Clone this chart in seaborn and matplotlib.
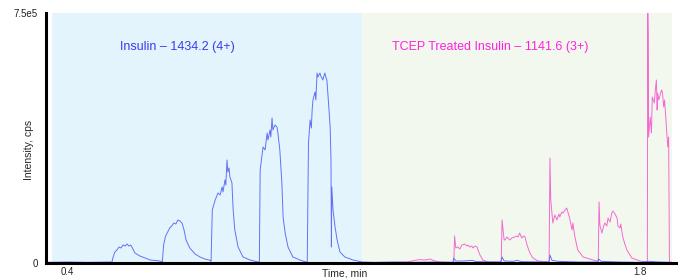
import matplotlib
matplotlib.use("Agg")
import matplotlib.pyplot as plt
import seaborn as sns

# --- data (intensity in kcps, time in min) ---
insulin_time = [0.349, 0.40, 0.45, 0.50,
                0.510, 0.512, 0.517, 0.522, 0.527, 0.532, 0.537, 0.542, 0.547, 0.551, 0.556, 0.561,
                0.566, 0.578, 0.591, 0.603, 0.627, 0.632,
                0.633, 0.636, 0.641, 0.646, 0.651, 0.656, 0.661, 0.666, 0.671, 0.676, 0.681, 0.686,
                0.691, 0.700, 0.713, 0.725, 0.737, 0.750,
                0.752, 0.755, 0.762, 0.769, 0.774, 0.779, 0.781, 0.786, 0.788, 0.791, 0.793, 0.796,
                0.798, 0.803, 0.806, 0.810, 0.818, 0.830, 0.847, 0.867,
                0.870, 0.872, 0.879, 0.884, 0.889, 0.891, 0.896, 0.898, 0.901, 0.903, 0.908, 0.913,
                0.915, 0.920, 0.925, 0.928, 0.933, 0.940, 0.952, 0.969, 0.984,
                0.987, 0.990, 0.994, 0.997, 0.999, 1.001, 1.006, 1.008, 1.011, 1.013, 1.018, 1.020,
                1.023, 1.025, 1.030, 1.033, 1.035, 1.038, 1.043, 1.045, 1.046, 1.047, 1.050, 1.055,
                1.060, 1.067, 1.079, 1.099, 1.121,
                1.15, 1.20, 1.25, 1.30, 1.343, 1.345, 1.350, 1.37, 1.39, 1.40, 1.46, 1.463, 1.468,
                1.49, 1.50, 1.51, 1.578, 1.580, 1.585, 1.60, 1.65, 1.697, 1.699, 1.705, 1.75, 1.80,
                1.82, 1.85, 1.878]
insulin_int = [2, 3, 2, 3,
               3, 15, 33, 39, 48, 45, 54, 51, 57, 51, 54, 42,
               30, 21, 15, 9, 6, 4,
               4, 54, 81, 93, 105, 111, 120, 117, 129, 126, 120, 99,
               69, 45, 27, 18, 12, 8,
               5, 159, 189, 210, 204, 228, 213, 249, 234, 309, 273, 285,
               258, 240, 159, 99, 48, 18, 9, 3,
               3, 279, 348, 339, 390, 369, 399, 378, 435, 399, 414, 408,
               393, 339, 240, 138, 90, 48, 18, 9, 3,
               3, 360, 429, 405, 459, 489, 513, 489, 570, 558, 570, 561,
               555, 549, 570, 555, 549, 498, 408, 309, 48, 228, 159, 108,
               69, 33, 18, 9, 3,
               2, 3, 2, 3, 2, 15, 6, 6, 8, 4, 3, 18, 6,
               5, 8, 4, 3, 24, 8, 5, 3, 3, 12, 5, 3, 2,
               5, 3, 2]

tcep_time = [0.349, 0.60, 0.90, 1.12, 1.20, 1.231, 1.250, 1.262, 1.275, 1.287, 1.299, 1.311, 1.34,
             1.345, 1.347, 1.350, 1.355, 1.360, 1.365, 1.372, 1.377, 1.380, 1.384, 1.389, 1.392,
             1.397, 1.402, 1.404, 1.409, 1.416, 1.429,
             1.461, 1.463, 1.468, 1.470, 1.475, 1.477, 1.482, 1.487, 1.494, 1.499, 1.502, 1.506,
             1.511, 1.516, 1.519, 1.524, 1.531, 1.538, 1.551,
             1.578, 1.580, 1.582, 1.587, 1.592, 1.597, 1.602, 1.604, 1.609, 1.612, 1.617, 1.621,
             1.626, 1.629, 1.634, 1.636, 1.641, 1.648, 1.661, 1.685, 1.695,
             1.698, 1.700, 1.702, 1.707, 1.712, 1.714, 1.719, 1.722, 1.727, 1.731, 1.734, 1.739,
             1.744, 1.746, 1.751, 1.753, 1.758, 1.763, 1.768, 1.780, 1.800, 1.815,
             1.818, 1.819, 1.820, 1.821, 1.825, 1.828, 1.830, 1.835, 1.838, 1.840, 1.842, 1.843,
             1.846, 1.848, 1.851, 1.853, 1.855, 1.858, 1.860, 1.863, 1.865, 1.868, 1.870, 1.872,
             1.873, 1.878]
tcep_int = [1, 1, 1, 1, 2, 3, 8, 10, 9, 12, 6, 3, 2,
            2, 81, 45, 48, 42, 54, 57, 51, 54, 48, 51, 45,
            51, 48, 39, 24, 9, 3,
            3, 129, 69, 69, 78, 75, 69, 75, 78, 81, 78, 90,
            75, 81, 78, 54, 30, 15, 6,
            3, 315, 189, 120, 144, 129, 147, 138, 153, 150, 159, 165,
            144, 129, 99, 120, 78, 39, 18, 9, 6,
            5, 183, 114, 90, 114, 120, 111, 135, 123, 150, 156, 147,
            135, 111, 105, 117, 78, 57, 39, 15, 6, 3,
            3, 760, 678, 378, 438, 390, 498, 480, 525, 549, 459, 510,
            489, 498, 513, 519, 510, 468, 489, 438, 399, 348, 378, 0,
            2, 2]

baseline_time = [0.349, 0.70, 1.10, 1.50, 1.878]
baseline_int = [1, 1, 1, 1, 1]

y_ticks = [0, 750]
y_tick_labels = ["0", "7.5e5"]
x_ticks = [0.4, 1.8]
x_tick_labels = ["0.4", "1.8"]

# --- plot ---
sns.set_style("white")
plt.rcParams["font.family"] = ["Liberation Sans", "DejaVu Sans"]

fig = plt.figure(figsize=(6.78, 2.78), dpi=100)
ax = fig.add_axes([46 / 678, 15 / 278, 630 / 678, 250 / 278])

ax.axvspan(0.363, 1.121, color="#e4f4fc", lw=0, zorder=0)
ax.axvspan(1.121, 1.878, color="#f3f8ee", lw=0, zorder=0)

sns.lineplot(x=baseline_time, y=baseline_int, ax=ax, color="#202060",
             linewidth=0.8, estimator=None, sort=False)
sns.lineplot(x=tcep_time, y=tcep_int, ax=ax, color="#f36ad2",
             linewidth=0.7, estimator=None, sort=False)
sns.lineplot(x=insulin_time, y=insulin_int, ax=ax, color="#6172f6",
             linewidth=0.7, estimator=None, sort=False)

ax.text(0.529, 648, "Insulin \u2013 1434.2 (4+)", color="#3a3af0",
        fontsize=9, va="center", ha="left")
ax.text(1.194, 648, "TCEP Treated Insulin \u2013 1141.6 (3+)", color="#ff22dd",
        fontsize=9, va="center", ha="left")

ax.set_xlim(0.3487, 1.888)
ax.set_ylim(0, 750)
ax.set_xticks(x_ticks)
ax.set_xticklabels(x_tick_labels)
ax.set_yticks(y_ticks)
ax.set_yticklabels(y_tick_labels)
ax.tick_params(axis="both", length=0, labelsize=7, colors="#222222")
ax.tick_params(axis="x", pad=3)
ax.tick_params(axis="y", pad=6)

sns.despine(ax=ax)
for side in ["left", "bottom"]:
    ax.spines[side].set_linewidth(2.2)
    ax.spines[side].set_color("black")

ax.set_xlabel("Time, min", fontsize=7.5)
ax.xaxis.set_label_coords(0.4746, -0.022)
ax.set_ylabel("Intensity, cps", fontsize=7.5)
ax.yaxis.set_label_coords(-0.019, 0.452)

fig.savefig("out.png", dpi=100)
